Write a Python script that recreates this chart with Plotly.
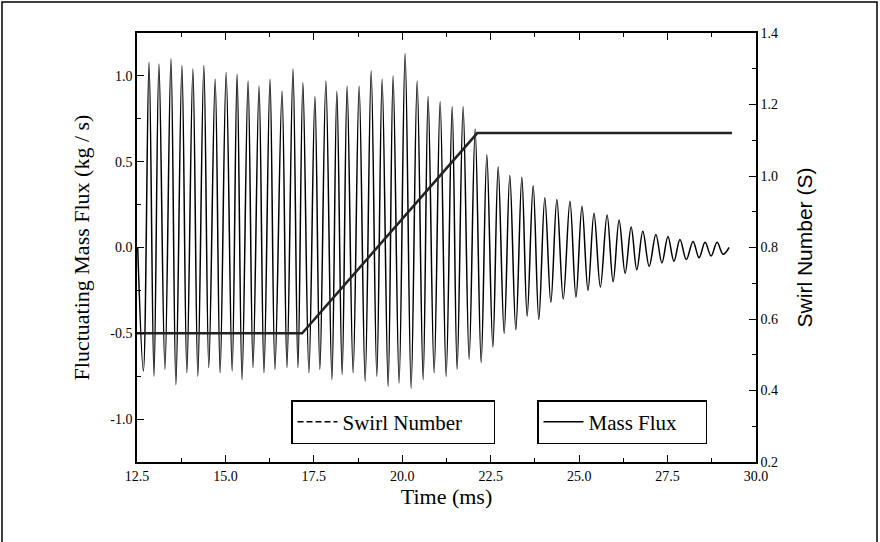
import plotly.graph_objects as go

# ---------------- data ----------------
# Fluctuating mass flux: successive extrema (time in ms, value in kg/s)
mass_t = [12.52, 12.68, 12.84, 12.98, 13.12, 13.29, 13.46, 13.60, 13.77, 13.91,
          14.08, 14.22, 14.39, 14.53, 14.71, 14.85, 15.02, 15.19, 15.33, 15.47,
          15.64, 15.78, 15.95, 16.09, 16.26, 16.40, 16.60, 16.74, 16.91, 17.05,
          17.19, 17.36, 17.53, 17.67, 17.84, 18.01, 18.15, 18.30, 18.44, 18.61,
          18.78, 18.95, 19.12, 19.28, 19.43, 19.60, 19.74, 19.91, 20.08, 20.25,
          20.42, 20.59, 20.73, 20.90, 21.07, 21.24, 21.41, 21.55, 21.72, 21.89,
          22.06, 22.23, 22.39, 22.56, 22.71, 22.88, 23.04, 23.21, 23.38, 23.53,
          23.70, 23.86, 24.03, 24.20, 24.37, 24.55, 24.74, 24.91, 25.08, 25.25,
          25.42, 25.60, 25.79, 25.96, 26.13, 26.30, 26.47, 26.63, 26.80, 26.98,
          27.17, 27.34, 27.51, 27.68, 27.85, 28.03, 28.22, 28.39, 28.56, 28.73,
          28.90, 29.07, 29.24]
mass_v = [0.00, -0.72, 1.08, -0.75, 1.07, -0.71, 1.10, -0.80, 1.06, -0.73,
          1.04, -0.75, 1.06, -0.70, 0.98, -0.73, 1.02, -0.72, 1.01, -0.77,
          0.97, -0.70, 0.94, -0.73, 0.98, -0.71, 0.91, -0.70, 1.04, -0.70,
          0.96, -0.73, 0.88, -0.71, 0.97, -0.77, 0.91, -0.74, 0.94, -0.73,
          0.94, -0.78, 1.03, -0.75, 0.98, -0.81, 1.00, -0.79, 1.13, -0.82,
          0.97, -0.77, 0.88, -0.73, 0.85, -0.75, 0.82, -0.71, 0.82, -0.65,
          0.69, -0.67, 0.54, -0.58, 0.47, -0.50, 0.42, -0.48, 0.41, -0.40,
          0.36, -0.42, 0.29, -0.32, 0.28, -0.30, 0.27, -0.29, 0.24, -0.25,
          0.20, -0.23, 0.19, -0.20, 0.16, -0.15, 0.12, -0.13, 0.094, -0.11,
          0.076, -0.09, 0.064, -0.08, 0.047, -0.07, 0.035, -0.06, 0.03, -0.05,
          0.03, -0.04, 0.00]

# Swirl number profile
swirl_t = [12.5, 17.17, 22.12, 29.32]
swirl_s = [0.56, 0.56, 1.12, 1.12]

# tick labels
x_ticks = [12.5, 15.0, 17.5, 20.0, 22.5, 25.0, 27.5, 30.0]
x_labels = ["12.5", "15.0", "17.5", "20.0", "22.5", "25.0", "27.5", "30.0"]
y_ticks = [-1.0, -0.5, 0.0, 0.5, 1.0]
y_labels = ["-1.0", "-0.5", "0.0", "0.5", "1.0"]
y2_ticks = [0.2, 0.4, 0.6, 0.8, 1.0, 1.2, 1.4]
y2_labels = ["0.2", "0.4", "0.6", "0.8", "1.0", "1.2", "1.4"]

# ---------------- figure ----------------
W, H = 880, 542
L, R, T, B = 137, 124, 33, 80
pw, ph = W - L - R, H - T - B

serif = "Liberation Serif"
sans = "Liberation Sans"

fig = go.Figure()

fig.add_trace(go.Scatter(
    x=mass_t, y=mass_v, mode="lines", name="Mass Flux",
    line=dict(color="black", width=1.5, shape="spline", smoothing=1.0),
    legend="legend2", showlegend=True,
))
fig.add_trace(go.Scatter(
    x=swirl_t, y=swirl_s, mode="lines", name="Swirl Number",
    line=dict(color="#222222", width=2.5), yaxis="y2", showlegend=False,
))
# legend entry for swirl number (dashed icon, as in the original legend)
fig.add_trace(go.Scatter(
    x=[None], y=[None], mode="lines", name="Swirl Number",
    line=dict(color="black", width=1.5, dash="6px,3px"), yaxis="y2",
    legend="legend",
))

tickfont = dict(family=serif, size=14, color="black")

fig.update_layout(
    width=W, height=H,
    margin=dict(l=L, r=R, t=T, b=B, pad=0, autoexpand=False),
    paper_bgcolor="white", plot_bgcolor="white",
    font=dict(family=serif, color="black"),
    xaxis=dict(
        range=[12.5, 30.0], tickvals=x_ticks, ticktext=x_labels,
        ticks="inside", ticklen=7, tickwidth=1.2, tickcolor="black",
        minor=dict(dtick=1.25, tick0=12.5, ticks="inside", ticklen=4,
                   tickcolor="black", showgrid=False),
        showline=True, linecolor="black", linewidth=1.5, mirror="ticks",
        showgrid=False, zeroline=False, tickfont=tickfont, automargin=False,
        title=dict(text="Time (ms)", font=dict(family=serif, size=22),
                   standoff=4),
    ),
    yaxis=dict(
        range=[-1.25, 1.25], tickvals=y_ticks, ticktext=y_labels,
        ticks="inside", ticklen=7, tickwidth=1.2, tickcolor="black",
        minor=dict(dtick=0.25, tick0=0, ticks="inside", ticklen=4,
                   tickcolor="black", showgrid=False),
        showline=True, linecolor="black", linewidth=1.5, mirror=True,
        showgrid=False, zeroline=False, tickfont=tickfont, automargin=False,
        title=dict(text="Fluctuating Mass Flux (kg / s)",
                   font=dict(family=serif, size=22), standoff=15),
    ),
    yaxis2=dict(
        range=[0.2, 1.4], tickvals=y2_ticks, ticktext=y2_labels,
        overlaying="y", side="right",
        ticks="inside", ticklen=7, tickwidth=1.2, tickcolor="black",
        minor=dict(dtick=0.1, tick0=0.2, ticks="inside", ticklen=4,
                   tickcolor="black", showgrid=False),
        showline=True, linecolor="black", linewidth=1.5,
        showgrid=False, zeroline=False, tickfont=tickfont, automargin=False,
        title=dict(text="Swirl Number (S)", font=dict(family=sans, size=21),
                   standoff=20),
    ),
    legend=dict(
        orientation="h",
        x=(291 - L) / pw, y=(H - B - 400) / ph, xanchor="left", yanchor="top",
        bordercolor="black", borderwidth=1.5, bgcolor="white",
        font=dict(family=serif, size=21, color="black"),
        itemwidth=40, tracegroupgap=0, entrywidth=146, entrywidthmode="pixels",
    ),
    legend2=dict(
        orientation="h",
        x=(537 - L) / pw, y=(H - B - 400) / ph, xanchor="left", yanchor="top",
        bordercolor="black", borderwidth=1.5, bgcolor="white",
        font=dict(family=serif, size=21, color="black"),
        itemwidth=40, tracegroupgap=0, entrywidth=112, entrywidthmode="pixels",
    ),
    shapes=[dict(
        type="rect", xref="paper", yref="paper", layer="above",
        x0=(2 - L) / pw, x1=(877 - L) / pw,
        y0=(H - B - 560) / ph, y1=(H - B - 2) / ph,
        line=dict(color="black", width=1.5), fillcolor="rgba(0,0,0,0)",
    )],
)

fig.write_html(
    "out.html",
    config={"displayModeBar": False},
    post_script="document.body.style.margin='0';"
                "document.documentElement.style.overflow='hidden';",
)
